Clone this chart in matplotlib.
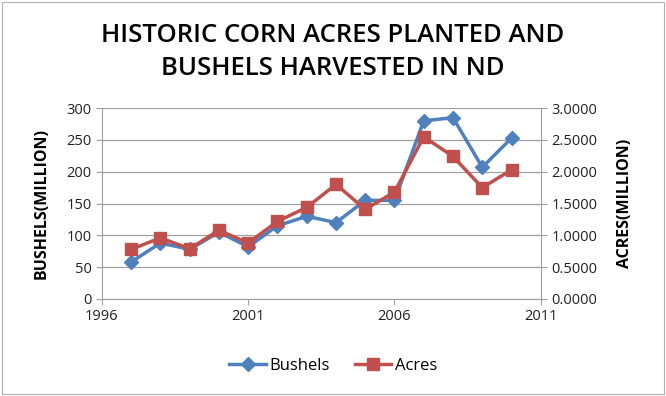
import matplotlib.pyplot as plt
from matplotlib.patches import Rectangle
from matplotlib.lines import Line2D

years = [1997, 1998, 1999, 2000, 2001, 2002, 2003, 2004, 2005, 2006, 2007, 2008, 2009, 2010]
bushels = [58, 88, 78, 105, 82, 115, 130, 120, 155, 155, 280, 285, 207, 253]
acres = [0.78, 0.96, 0.79, 1.08, 0.88, 1.22, 1.44, 1.80, 1.41, 1.68, 2.55, 2.24, 1.75, 2.03]

BLUE = "#4f81bd"
RED = "#c0504d"
GRID = "#a0a0a0"

plt.rcParams["font.family"] = ["Open Sans", "DejaVu Sans"]

fig = plt.figure(figsize=(6.66, 3.96), dpi=100)
fig.patches.append(Rectangle((0.003, 0.004), 0.994, 0.992, transform=fig.transFigure,
                             fill=False, edgecolor="#b0b0b0", linewidth=0.8))

ax = fig.add_axes([0.153, 0.245, 0.659, 0.482])
ax2 = ax.twinx()

ax.plot(years, bushels, color=BLUE, linewidth=2.5, marker="D", markersize=7,
        markeredgecolor=BLUE, zorder=3)
ax2.plot(years, acres, color=RED, linewidth=2.5, marker="s", markersize=9,
         markeredgecolor=RED, zorder=3)

ax.set_xlim(1996, 2011)
ax.set_xticks([1996, 2001, 2006, 2011])
ax.set_ylim(0, 300)
ax.set_yticks(range(0, 301, 50))
ax2.set_ylim(0, 3)
ax2.set_yticks([0, 0.5, 1, 1.5, 2, 2.5, 3])
ax2.set_yticklabels([f"{v:.4f}" for v in ax2.get_yticks()])

ax.yaxis.grid(True, color=GRID, linewidth=0.9)
ax.set_axisbelow(True)
for a in (ax, ax2):
    a.spines["top"].set_visible(False)
    a.spines["left"].set_color(GRID)
    a.spines["right"].set_color(GRID)
    a.spines["bottom"].set_color(GRID)
    a.tick_params(colors=GRID, labelcolor="#222222", labelsize=10.5, length=4)
ax.spines["right"].set_visible(False)
ax2.spines["left"].set_visible(False)
ax2.spines["bottom"].set_visible(False)

ax.set_ylabel("BUSHELS(MILLION)", fontsize=11.5, fontweight="bold", labelpad=12)
ax2.set_ylabel("ACRES(MILLION)", fontsize=11.5, fontweight="bold", labelpad=14)

fig.text(0.5, 0.91, "HISTORIC CORN ACRES PLANTED AND", ha="center", va="center",
         fontsize=18.5, fontweight="semibold")
fig.text(0.5, 0.826, "BUSHELS HARVESTED IN ND", ha="center", va="center",
         fontsize=18.5, fontweight="semibold")

handles = [
    Line2D([], [], color=BLUE, linewidth=2.5, marker="D", markersize=7, label="Bushels"),
    Line2D([], [], color=RED, linewidth=2.5, marker="s", markersize=8, label="Acres"),
]
fig.legend(handles=handles, loc="center", bbox_to_anchor=(0.5, 0.075), ncol=2,
           frameon=False, fontsize=12, handlelength=2.2, handletextpad=0.2, columnspacing=1.5)

fig.savefig("out.png", dpi=100)
